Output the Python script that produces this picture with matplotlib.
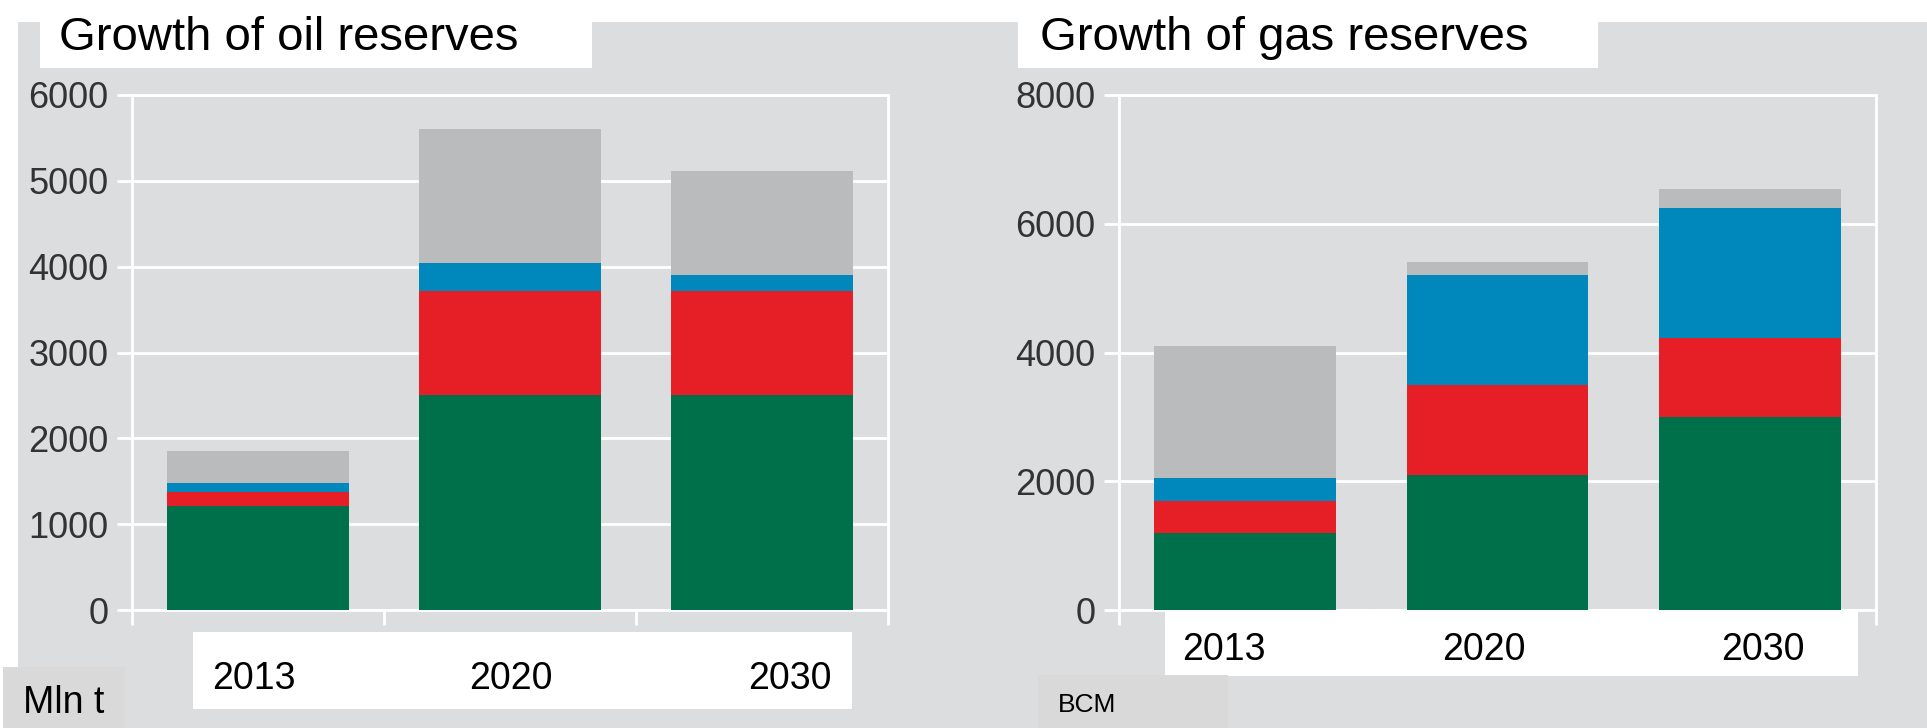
import matplotlib
matplotlib.use("Agg")
import numpy as np
import matplotlib.pyplot as plt
from matplotlib.patches import Rectangle

# data (stacked segments, bottom to top: green, red, blue, grey)
years = ["2013", "2020", "2030"]

oil_green = [1210, 2500, 2500]
oil_red = [165, 1220, 1220]
oil_blue = [105, 320, 180]
oil_grey = [370, 1560, 1220]

gas_green = [1200, 2100, 3000]
gas_red = [500, 1400, 1220]
gas_blue = [350, 1700, 2020]
gas_grey = [2050, 200, 300]

oil_ticks = [0, 1000, 2000, 3000, 4000, 5000, 6000]
gas_ticks = [0, 2000, 4000, 6000, 8000]

colors = ["#00704a", "#e61e26", "#0088bd", "#babbbd"]
bg = "#dcdddf"

plt.rcParams['font.family'] = ['Liberation Sans', 'DejaVu Sans']

W, H = 1927, 728
fig = plt.figure(figsize=(W / 100, H / 100), dpi=100)
fig.patch.set_facecolor("white")


def box(x0, y0, x1, y1, color, z=1):
    # rectangle in pixel coords (y from top)
    fig.patches.append(Rectangle((x0 / W, 1 - y1 / H), (x1 - x0) / W, (y1 - y0) / H,
                                 transform=fig.transFigure, facecolor=color,
                                 edgecolor="none", zorder=z))


def txt(x, y, s, size, **kw):
    fig.text(x / W, 1 - y / H, s, fontsize=size, va="baseline", zorder=5, **kw)


box(18, 22, W, H, bg, z=-1)


def draw_chart(rect, segs, ticks):
    x0, y0, x1, y1 = rect
    ax = fig.add_axes([x0 / W, 1 - y1 / H, (x1 - x0) / W, (y1 - y0) / H])
    ax.set_facecolor("none")
    x = np.arange(len(years))
    bottom = np.zeros(len(years))
    for vals, c in zip(segs, colors):
        ax.bar(x, vals, width=0.72, bottom=bottom, color=c, zorder=2, linewidth=0)
        bottom += np.array(vals)
    ax.set_xlim(-0.5, 2.5)
    ax.set_ylim(0, ticks[-1])
    ax.set_yticks(ticks)
    ax.set_yticklabels([str(t) for t in ticks])
    ax.set_xticks([-0.5, 0.5, 1.5, 2.5])
    ax.set_xticklabels([])
    ax.grid(axis="y", color="white", linewidth=2, zorder=0)
    ax.set_axisbelow(True)
    for s in ["top", "bottom"]:
        ax.spines[s].set_visible(False)
    for s in ["left", "right"]:
        ax.spines[s].set_color("white")
        ax.spines[s].set_linewidth(2)
    ax.axhline(0, color="white", lw=2, clip_on=False, zorder=1)
    ax.axhline(ticks[-1], color="white", lw=2, clip_on=False, zorder=1)
    ax.tick_params(axis="y", length=11, width=2, color="white", pad=6,
                   labelsize=26, labelcolor="#333333")
    ax.tick_params(axis="x", length=11, width=2, color="white")
    return ax


draw_chart((132, 95, 888, 610), [oil_green, oil_red, oil_blue, oil_grey], oil_ticks)
draw_chart((1119, 95, 1876, 610), [gas_green, gas_red, gas_blue, gas_grey], gas_ticks)

# white overlays
box(40, 0, 592, 68, "white", z=3)
box(1018, 0, 1598, 68, "white", z=3)
box(193, 632, 852, 709, "white", z=3)
box(1165, 612, 1858, 676, "white", z=3)
box(3, 667, 125, H, "#d9d9d9", z=3)
box(1038, 675, 1228, H, "#d9d9d9", z=3)

txt(59, 50, "Growth of oil reserves", 34)
txt(1040, 50, "Growth of gas reserves", 34)

for xc, lab in zip([254, 511, 790], years):
    txt(xc, 689, lab, 27, ha="center")
for xc, lab in zip([1224, 1484, 1763], years):
    txt(xc, 660, lab, 27, ha="center")

txt(23, 713, "Mln t", 27)
txt(1058, 712, "BCM", 19)

fig.savefig("out.png", dpi=100)
